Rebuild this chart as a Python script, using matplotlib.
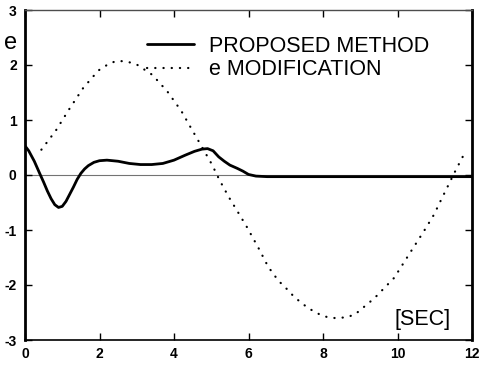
import matplotlib
matplotlib.use('Agg')
import matplotlib.pyplot as plt

plt.rcParams['font.family'] = ['Liberation Sans', 'DejaVu Sans']
plt.rcParams['axes.unicode_minus'] = False

t_prop = [0.0, 0.1, 0.25, 0.4, 0.5, 0.6, 0.7, 0.8, 0.9, 1.0, 1.1, 1.2, 1.3, 1.4, 1.5,
          1.6, 1.7, 1.85, 2.0, 2.2, 2.5, 2.8, 3.1, 3.4, 3.7, 4.0, 4.3, 4.55, 4.75, 4.9,
          5.05, 5.2, 5.35, 5.5, 5.7, 5.85, 6.0, 6.2, 6.5, 8.0, 10.0, 12.0]
e_prop = [0.53, 0.44, 0.25, 0.02, -0.13, -0.29, -0.43, -0.54, -0.59, -0.57, -0.48, -0.35, -0.22, -0.08, 0.03,
          0.11, 0.17, 0.23, 0.26, 0.27, 0.25, 0.21, 0.19, 0.19, 0.21, 0.27, 0.36, 0.43, 0.47, 0.48,
          0.44, 0.33, 0.25, 0.18, 0.12, 0.07, 0.01, -0.02, -0.03, -0.03, -0.03, -0.03]

# e-modification error
t_mod = [0.44, 0.83, 1.18, 1.56, 1.97, 2.27, 2.45, 2.62, 2.8, 3.02, 3.42, 3.82, 4.2, 4.46, 4.69, 5.02,
         5.22, 5.47, 5.73, 5.96, 6.27, 6.53, 6.8, 7.07, 7.23, 7.6, 7.95, 8.1, 8.31, 8.6, 8.85,
         9.38, 9.91, 10.36, 10.71, 10.98, 11.15, 11.55, 11.78]
e_mod = [0.46, 0.81, 1.19, 1.58, 1.9, 2.03, 2.07, 2.07, 2.05, 2.0, 1.82, 1.52, 1.16, 0.85, 0.58, 0.19,
         -0.09, -0.4, -0.69, -0.95, -1.33, -1.67, -1.92, -2.1, -2.22, -2.42, -2.55, -2.58, -2.6, -2.59, -2.54,
         -2.24, -1.87, -1.39, -1.02, -0.72, -0.48, 0.07, 0.37]

xticks = [0, 2, 4, 6, 8, 10, 12]
yticks = [-3, -2, -1, 0, 1, 2, 3]

fig = plt.figure(figsize=(4.8, 3.66), dpi=100)
ax = fig.add_axes([25/480, 26/366, 447/480, 330/366])

ax.axhline(0, color='0.45', lw=0.8, zorder=1)
ax.plot(t_prop, e_prop, color='black', lw=2.0, solid_capstyle='round',
        solid_joinstyle='round', label='PROPOSED METHOD', zorder=3)
ax.plot(t_mod, e_mod, color='black', lw=1.6, linestyle=(0, (0.1, 3.6)),
        dash_capstyle='round', label='e MODIFICATION', zorder=2)

ax.set_xlim(0, 12)
ax.set_ylim(-3, 3)
ax.set_xticks(xticks)
ax.set_yticks(yticks)
ax.tick_params(direction='in', length=5, width=1, top=True, right=True,
               labelsize=10, pad=5)
ax.tick_params(axis='y', pad=6)
for lab in ax.get_xticklabels() + ax.get_yticklabels():
    lab.set_fontweight('bold')

ax.spines['left'].set_linewidth(2.0)
ax.spines['right'].set_linewidth(2.0)
ax.spines['bottom'].set_linewidth(1.2)
ax.spines['top'].set_linewidth(1.0)
ax.spines['top'].set_color('0.3')

ax.text(10.67, -2.62, '[SEC]', fontsize=15.5, ha='center', va='center')
fig.text(11/480, 1 - 43/366, 'e', fontsize=17, ha='center', va='center')

ax.legend(loc='upper left', bbox_to_anchor=(147/480, 1 - 36/366),
          bbox_transform=fig.transFigure, frameon=False, fontsize=15.5,
          handlelength=2.2, handletextpad=0.7, labelspacing=0.1,
          borderpad=0, borderaxespad=0)

fig.savefig('out.png', dpi=100)
